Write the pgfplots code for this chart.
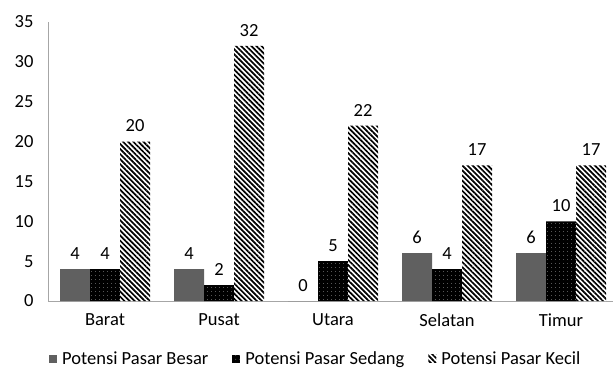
\documentclass[border=0pt]{standalone}
\usepackage{pgfplots}
\pgfplotsset{compat=1.18}
\usepackage{fontspec}
\setmainfont{Carlito}
\usetikzlibrary{patterns.meta}
\definecolor{bargray}{HTML}{606060}
\definecolor{axgray}{HTML}{A6A6A6}
\begin{document}
\begin{tikzpicture}
\useasboundingbox (0,0) rectangle (613pt,370pt);
\begin{axis}[
  at={(48pt,69pt)}, anchor=south west,
  width=565pt, height=279pt, scale only axis,
  ybar=0pt, bar width=30pt,
  xmin=-0.5, xmax=4.456, ymin=0, ymax=35,
  xtick={0,1,2,3,4},
  xticklabels={Barat,Pusat,Utara,Selatan,Timur},
  ytick={0,5,10,15,20,25,30,35},
  axis x line*=bottom, axis y line*=left,
  axis line style={axgray, line width=1pt, -},
  major tick length=0pt,
  /pgf/number format/assume math mode=true,
  font=\fontsize{18.5}{21}\selectfont,
  tick label style={font=\fontsize{18.5}{21}\selectfont},
  yticklabel style={xshift=-11pt},
  xticklabel style={yshift=-9pt},
  nodes near coords,
  every node near coord/.append style={font=\fontsize{18.5}{21}\selectfont, yshift=6pt, black},
  clip=false,
  legend columns=3,
  legend style={draw=none, fill=none, at={(0.474,-0.207)}, anchor=center,
    font=\fontsize{18.5}{21}\selectfont,
    /tikz/every even column/.append style={column sep=22pt},
    /tikz/every odd column/.append style={column sep=0pt}},
  legend image code/.code={\draw[#1,draw=none] (0pt,-4pt) rectangle (8pt,4pt);},
]
\addplot[fill=bargray, draw=none] coordinates {(0,4) (1,4) (2,0) (3,6) (4,6)};
\addlegendentry{\hspace{3pt}Potensi Pasar Besar}
\addplot[fill=black, draw=none, postaction={pattern={Dots[distance=4pt, radius=0.45pt]}, pattern color=white!70!black}] coordinates {(0,4) (1,2) (2,5) (3,4) (4,10)};
\addlegendentry{\hspace{3pt}Potensi Pasar Sedang}
\addplot[fill=white, draw=none, postaction={pattern={Lines[angle=-45, distance=3.6pt, line width=1.7pt]}, pattern color=black}] coordinates {(0,20) (1,32) (2,22) (3,17) (4,17)};
\addlegendentry{\hspace{3pt}Potensi Pasar Kecil}
\end{axis}
\end{tikzpicture}
\end{document}
